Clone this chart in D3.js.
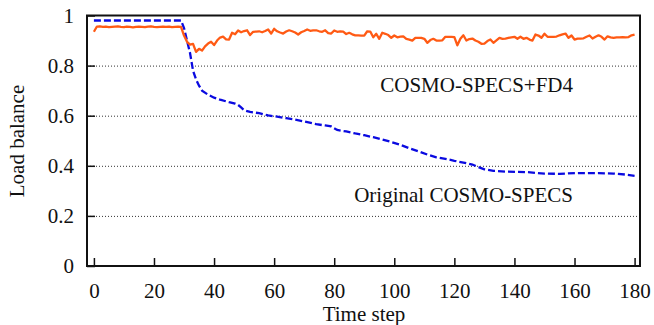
<!DOCTYPE html>
<html>
<head>
<meta charset="utf-8">
<script src="https://cdn.jsdelivr.net/npm/d3@7"></script>
<style>
  html, body { margin: 0; padding: 0; background: #fff; }
  svg { display: block; }
  text { font-family: 'Liberation Serif', 'Times New Roman', serif; fill: #111; }
</style>
</head>
<body>
<svg id="chart" width="654" height="325"></svg>
<script>
// time steps 0..180, one value per step for the FD4 run
let fd4Steps = d3.range(0, 181)
let fd4Balance = [
  0.935, 0.956, 0.957, 0.955, 0.956, 0.954, 0.955, 0.956, 0.957, 0.955,
  0.954, 0.956, 0.955, 0.953, 0.955, 0.956, 0.955, 0.954, 0.956, 0.957,
  0.955, 0.954, 0.955, 0.956, 0.955, 0.956, 0.954, 0.955, 0.956, 0.955,
  0.920, 0.895, 0.884, 0.887, 0.855, 0.867, 0.860, 0.877, 0.888, 0.895,
  0.882, 0.900, 0.912, 0.916, 0.905, 0.904, 0.931, 0.925, 0.940, 0.933,
  0.938, 0.941, 0.922, 0.935, 0.936, 0.937, 0.933, 0.938, 0.944, 0.928,
  0.947, 0.937, 0.932, 0.928, 0.936, 0.941, 0.937, 0.932, 0.924, 0.933,
  0.938, 0.944, 0.939, 0.941, 0.941, 0.937, 0.935, 0.941, 0.930, 0.928,
  0.940, 0.935, 0.937, 0.936, 0.926, 0.931, 0.925, 0.921, 0.921, 0.920,
  0.920, 0.937, 0.936, 0.913, 0.927, 0.907, 0.931, 0.927, 0.922, 0.911,
  0.920, 0.913, 0.916, 0.917, 0.907, 0.904, 0.900, 0.911, 0.911, 0.911,
  0.907, 0.891, 0.902, 0.907, 0.900, 0.900, 0.901, 0.915, 0.915, 0.915,
  0.914, 0.881, 0.907, 0.921, 0.900, 0.906, 0.908, 0.900, 0.895, 0.887,
  0.888, 0.898, 0.904, 0.891, 0.901, 0.911, 0.907, 0.908, 0.911, 0.913,
  0.915, 0.907, 0.915, 0.907, 0.911, 0.904, 0.900, 0.924, 0.920, 0.911,
  0.927, 0.915, 0.915, 0.915, 0.916, 0.921, 0.925, 0.928, 0.911, 0.920,
  0.904, 0.908, 0.908, 0.909, 0.915, 0.920, 0.908, 0.915, 0.921, 0.915,
  0.904, 0.917, 0.913, 0.911, 0.913, 0.913, 0.914, 0.913, 0.914, 0.921,
  0.924
]
// original run, read at the steps where the curve changes
let origSteps = [
  0, 29, 30, 31, 32, 33, 34, 35, 36, 38, 40, 42, 45, 47, 48, 49, 50, 52, 55, 58,
  61, 64, 67, 70, 74, 77, 79, 81, 84, 87, 90, 93, 96, 99, 102, 105, 108, 111, 114, 117,
  120, 123, 126, 128, 130, 133, 137, 144, 150, 155, 161, 168, 173, 177, 180
]
let origBalance = [
  0.980, 0.980, 0.950, 0.900, 0.850, 0.780, 0.745, 0.720, 0.700, 0.684,
  0.672, 0.664, 0.654, 0.648, 0.643, 0.633, 0.622, 0.615, 0.610, 0.601,
  0.596, 0.590, 0.584, 0.577, 0.566, 0.561, 0.557, 0.543, 0.537, 0.529,
  0.522, 0.514, 0.505, 0.495, 0.484, 0.470, 0.458, 0.445, 0.434, 0.428,
  0.420, 0.413, 0.405, 0.395, 0.386, 0.380, 0.377, 0.375, 0.369, 0.368,
  0.371, 0.371, 0.369, 0.365, 0.360
]
let xTicks = [0, 20, 40, 60, 80, 100, 120, 140, 160, 180]
let yTicks = [0, 0.2, 0.4, 0.6, 0.8, 1]
let gridValues = [0.2, 0.4, 0.6, 0.8]

let svg = d3.select('#chart')
let box = { left: 87, right: 640, top: 15.5, bottom: 266 }

let x = d3.scaleLinear().domain([-2.3, 181.8]).range([box.left, box.right])
let y = d3.scaleLinear().domain([0, 1]).range([box.bottom, box.top])

// dotted grid
svg.append('g')
  .selectAll('line')
  .data(gridValues)
  .join('line')
  .attr('x1', box.left)
  .attr('x2', box.right)
  .attr('y1', d => y(d) + 0.5)
  .attr('y2', d => y(d) + 0.5)
  .attr('stroke', '#333')
  .attr('stroke-width', 1)
  .attr('stroke-dasharray', '1,2')

// axes with inward ticks
let xAxis = d3.axisBottom(x).tickValues(xTicks).tickSize(-8).tickPadding(17).tickFormat(d3.format('d'))
let yAxis = d3.axisLeft(y).tickValues(yTicks).tickSize(-8).tickPadding(13).tickFormat(d => d === 0 || d === 1 ? d : d3.format('.1f')(d))

let gx = svg.append('g').attr('transform', `translate(0,${box.bottom})`).call(xAxis)
let gy = svg.append('g').attr('transform', `translate(${box.left},0)`).call(yAxis)
;[gx, gy].forEach(g => {
  g.select('.domain').remove()
  g.selectAll('.tick line').attr('stroke', '#111').attr('stroke-width', 1.5)
  g.selectAll('.tick text').attr('font-size', 21).attr('font-family', "'Liberation Serif', serif").attr('fill', '#111')
})

// frame
svg.append('rect')
  .attr('x', box.left)
  .attr('y', box.top)
  .attr('width', box.right - box.left)
  .attr('height', box.bottom - box.top)
  .attr('fill', 'none')
  .attr('stroke', '#111')
  .attr('stroke-width', 2)

// series
let line = d3.line().x(d => x(d[0])).y(d => y(d[1]))

svg.append('path')
  .datum(d3.zip(origSteps, origBalance))
  .attr('d', line)
  .attr('fill', 'none')
  .attr('stroke', '#0a0ae0')
  .attr('stroke-width', 2.3)
  .attr('stroke-dasharray', '7,3')

svg.append('path')
  .datum(d3.zip(fd4Steps, fd4Balance))
  .attr('d', line)
  .attr('fill', 'none')
  .attr('stroke', '#ff5a14')
  .attr('stroke-width', 2.3)
  .attr('stroke-linejoin', 'round')

// labels
svg.append('text')
  .attr('x', 573)
  .attr('y', 92)
  .attr('text-anchor', 'end')
  .attr('font-size', 21)
  .text('COSMO-SPECS+FD4')

svg.append('text')
  .attr('x', 573)
  .attr('y', 202)
  .attr('text-anchor', 'end')
  .attr('font-size', 21)
  .text('Original COSMO-SPECS')

svg.append('text')
  .attr('x', 364)
  .attr('y', 321)
  .attr('text-anchor', 'middle')
  .attr('font-size', 21)
  .text('Time step')

svg.append('text')
  .attr('transform', 'translate(24,141) rotate(-90)')
  .attr('text-anchor', 'middle')
  .attr('font-size', 21)
  .text('Load balance')
</script>
</body>
</html>
